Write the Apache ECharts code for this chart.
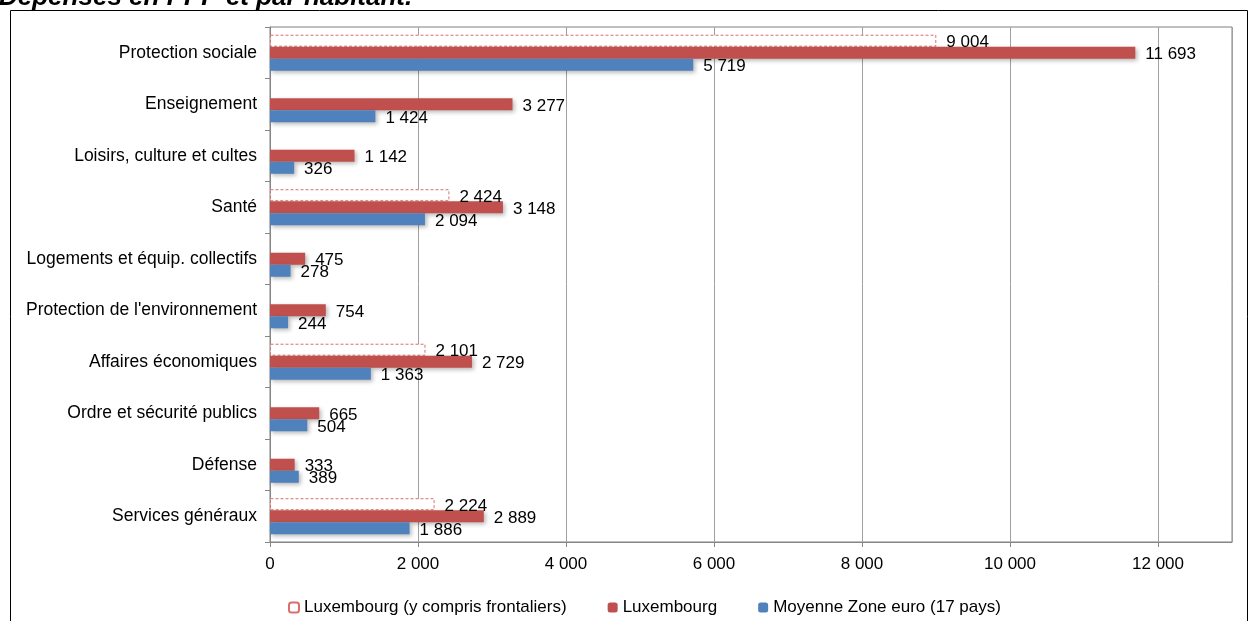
<!DOCTYPE html>
<html>
<head>
<meta charset="utf-8">
<title>Dépenses en PPP et par habitant</title>
<script src="https://cdn.jsdelivr.net/npm/echarts@6/dist/echarts.min.js"></script>
<style>
    html, body { margin: 0; padding: 0; background: #fff; }
    #chart { width: 1259px; height: 621px; }
</style>
</head>
<body>
<div id="chart"></div>
<script>
// categories, du haut vers le bas
var categories = [
    "Protection sociale",
    "Enseignement",
    "Loisirs, culture et cultes",
    "Santé",
    "Logements et équip. collectifs",
    "Protection de l'environnement",
    "Affaires économiques",
    "Ordre et sécurité publics",
    "Défense",
    "Services généraux"
];
var seriesNames = [
    "Luxembourg (y compris frontaliers)",
    "Luxembourg",
    "Moyenne Zone euro (17 pays)"
];
var luxFrontaliers = [9004, null, null, 2424, null, null, 2101, null, null, 2224];
var luxembourg = [11693, 3277, 1142, 3148, 475, 754, 2729, 665, 333, 2889];
var zoneEuro = [5719, 1424, 326, 2094, 278, 244, 1363, 504, 389, 1886];
var xTicks = [0, 2000, 4000, 6000, 8000, 10000, 12000];

var FONT = "Arial, 'Liberation Sans', sans-serif";

function fmt(v) {
    return String(v).replace(/\B(?=(\d{3})+(?!\d))/g, " ");
}

var chart = echarts.init(document.getElementById("chart"));

function barLabel() {
    return {
        show: true,
        position: "right",
        distance: 10,
        offset: [0, 2],
        fontFamily: FONT,
        fontSize: 17,
        color: "#000",
        formatter: function (p) { return fmt(p.value); }
    };
}

var shadow = {
    shadowColor: "rgba(0,0,0,0.28)",
    shadowBlur: 4,
    shadowOffsetX: 2,
    shadowOffsetY: 2
};

chart.setOption({
    animation: false,
    textStyle: { fontFamily: FONT },
    graphic: [
        {
            // cadre extérieur
            type: "rect",
            silent: true,
            shape: { x: 10.5, y: 10.5, width: 1237, height: 700 },
            style: { fill: null, stroke: "#000", lineWidth: 1 }
        },
        {
            type: "text",
            silent: true,
            left: -1,
            top: -15,
            style: {
                text: "Dépenses en PPP et par habitant.",
                font: "italic bold 26px " + FONT,
                fill: "#000"
            }
        }
    ],
    legend: {
        data: seriesNames,
        left: 283,
        top: 594,
        itemWidth: 10,
        itemHeight: 10,
        itemGap: 41,
        textStyle: { fontFamily: FONT, fontSize: 17, color: "#000" }
    },
    grid: {
        left: 270,
        right: 27,
        top: 27,
        bottom: 79,
        show: true,
        borderColor: "#808080",
        borderWidth: 1,
        backgroundColor: "#fff"
    },
    xAxis: {
        type: "value",
        min: xTicks[0],
        max: 13000,
        interval: xTicks[1] - xTicks[0],
        axisLine: { show: true, lineStyle: { color: "#868686" } },
        axisTick: { show: true, length: 5, lineStyle: { color: "#868686" } },
        splitLine: { show: true, lineStyle: { color: "#a0a0a0" } },
        axisLabel: {
            showMaxLabel: false,
            margin: 14,
            fontSize: 17,
            color: "#000",
            formatter: function (v) { return fmt(v); }
        }
    },
    yAxis: {
        type: "category",
        data: categories,
        inverse: true,
        axisLine: { show: true, lineStyle: { color: "#868686" } },
        axisTick: { show: true, length: 5, lineStyle: { color: "#868686" } },
        axisLabel: { margin: 13, fontSize: 17.5, color: "#000" }
    },
    series: [
        {
            name: seriesNames[0],
            type: "bar",
            data: luxFrontaliers,
            barGap: "0%",
            barCategoryGap: "30%",
            itemStyle: {
                color: "#fff",
                borderColor: "#d9706e",
                borderWidth: 1,
                borderType: [3, 2]
            },
            label: barLabel()
        },
        {
            name: seriesNames[1],
            type: "bar",
            data: luxembourg,
            barGap: "0%",
            barCategoryGap: "30%",
            itemStyle: Object.assign({ color: "#c0504d" }, shadow),
            label: barLabel()
        },
        {
            name: seriesNames[2],
            type: "bar",
            data: zoneEuro,
            barGap: "0%",
            barCategoryGap: "30%",
            itemStyle: Object.assign({ color: "#4f81bd" }, shadow),
            label: barLabel()
        }
    ]
});
</script>
</body>
</html>
